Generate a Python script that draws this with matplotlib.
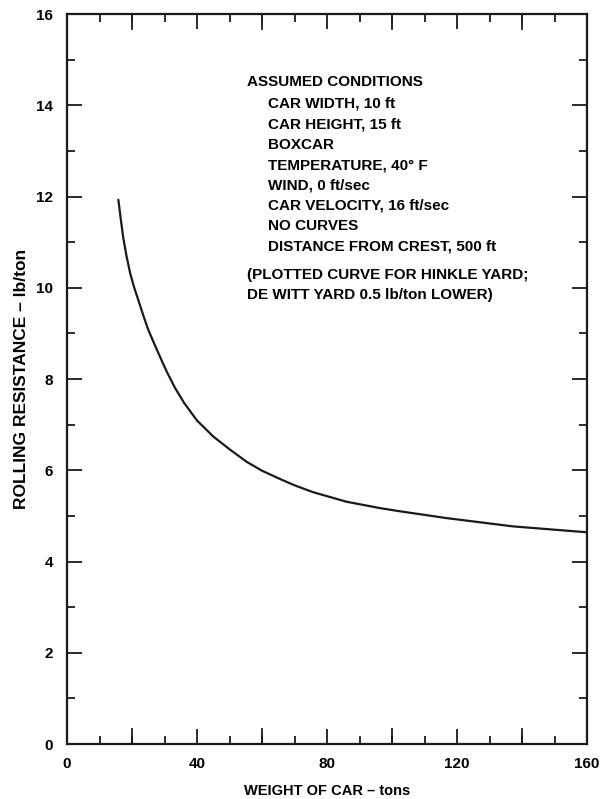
import matplotlib
matplotlib.use("Agg")
import matplotlib.pyplot as plt
from matplotlib.ticker import MultipleLocator

# rolling resistance vs car weight
weight = [15.8, 16.5, 17.3, 18.3, 19.4, 20.6, 21.9, 23.4, 25.0, 26.8, 28.6, 30.7,
          33.2, 36.0, 40.0, 45.0, 50.0, 55.4, 60.0, 65.5, 70.0, 75.7, 86.0,
          96.3, 102.5, 116.9, 137.2, 160.0]
resistance = [11.93, 11.53, 11.10, 10.70, 10.33, 10.02, 9.74, 9.41, 9.08, 8.78, 8.49, 8.16,
              7.81, 7.48, 7.09, 6.74, 6.46, 6.18, 5.99, 5.81, 5.67, 5.52, 5.31,
              5.17, 5.10, 4.95, 4.77, 4.64]

conditions_title = "ASSUMED CONDITIONS"
conditions = ["CAR WIDTH, 10 ft", "CAR HEIGHT, 15 ft", "BOXCAR",
              "TEMPERATURE, 40\u00b0 F", "WIND, 0 ft/sec", "CAR VELOCITY, 16 ft/sec",
              "NO CURVES", "DISTANCE FROM CREST, 500 ft"]
note = ["(PLOTTED CURVE FOR HINKLE YARD;", "DE WITT YARD 0.5 lb/ton LOWER)"]

plt.rcParams['font.family'] = ['Liberation Sans', 'DejaVu Sans']
plt.rcParams['font.weight'] = 'bold'

fig = plt.figure(figsize=(6.02, 7.99), dpi=100)
W, H = 602, 799
ax = fig.add_axes([67 / W, 1 - 744 / H, 520 / W, 730 / H])

ax.plot(weight, resistance, color='#1a1a1a', lw=1.6, solid_capstyle='round',
        solid_joinstyle='round')

ax.set_xlim(0, 160)
ax.set_ylim(0, 16)
ax.xaxis.set_major_locator(MultipleLocator(40))
ax.xaxis.set_minor_locator(MultipleLocator(10))
ax.yaxis.set_major_locator(MultipleLocator(2))
ax.yaxis.set_minor_locator(MultipleLocator(1))

for s in ax.spines.values():
    s.set_linewidth(1.6)
    s.set_color('#1a1a1a')

ax.tick_params(which='both', direction='in', top=True, right=True,
               color='#1a1a1a', width=1.3, labelsize=11)
ax.tick_params(which='major', length=11)
ax.tick_params(which='minor', length=5.5)
ax.tick_params(axis='x', which='major', pad=9)
ax.tick_params(axis='y', which='major', pad=10)

# 20-ton ticks between the labelled 40-ton ones are long too
for xv in (20, 60, 100, 140):
    ax.plot([xv, xv], [0, 0.33], color='#1a1a1a', lw=1.3, clip_on=False)
    ax.plot([xv, xv], [16, 16 - 0.33], color='#1a1a1a', lw=1.3, clip_on=False)

ax.set_xlabel("WEIGHT OF CAR \u2013 tons", fontsize=10.5, fontweight='bold', labelpad=10)
ax.set_ylabel("ROLLING RESISTANCE \u2013 lb/ton", fontsize=12.5, fontweight='bold', labelpad=5)

# assumed-conditions block
fs = 11
fig.text(247 / W, 1 - 82 / H, conditions_title, fontsize=fs, fontweight='bold', va='center')
for i, line in enumerate(conditions):
    fig.text(268 / W, 1 - (104 + i * 20.4) / H, line, fontsize=fs, fontweight='bold', va='center')
for i, line in enumerate(note):
    fig.text(247 / W, 1 - (275 + i * 20) / H, line, fontsize=fs, fontweight='bold', va='center')

fig.savefig("out.png", dpi=100, facecolor='white')
